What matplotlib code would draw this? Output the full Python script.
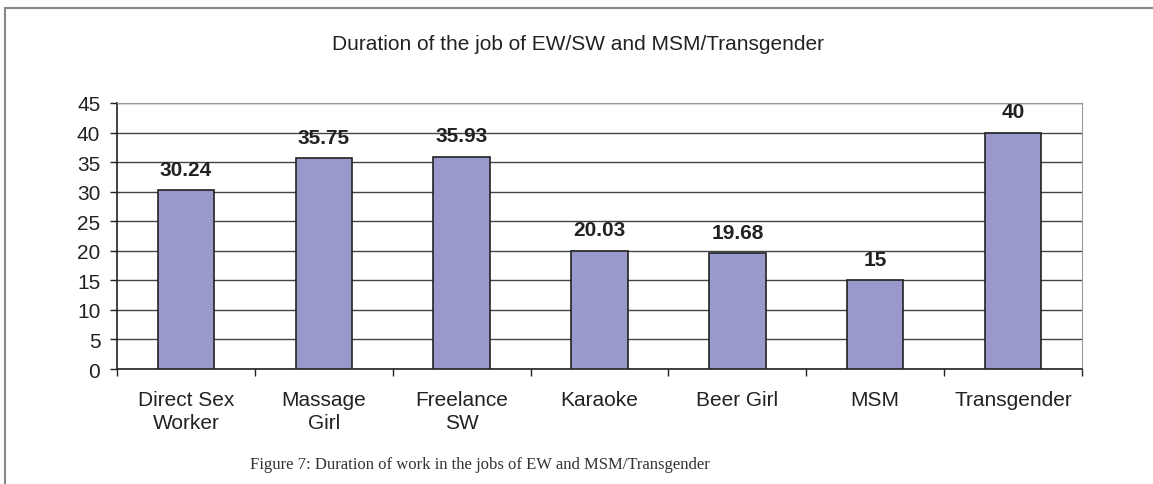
import matplotlib.pyplot as plt
from matplotlib.lines import Line2D

categories = ["Direct Sex\nWorker", "Massage\nGirl", "Freelance\nSW", "Karaoke",
              "Beer Girl", "MSM", "Transgender"]
durations = [30.24, 35.75, 35.93, 20.03, 19.68, 15, 40]
value_labels = ["30.24", "35.75", "35.93", "20.03", "19.68", "15", "40"]
y_ticks = [0, 5, 10, 15, 20, 25, 30, 35, 40, 45]

plt.rcParams['font.family'] = ['Liberation Sans', 'DejaVu Sans']

fig = plt.figure(figsize=(11.53, 4.85), dpi=100)
ax = fig.add_axes([0.1015, 0.2371, 0.8369, 0.5485])

x = list(range(len(categories)))
ax.bar(x, durations, width=0.41, color="#9999cc", edgecolor="#222222", linewidth=1.2, zorder=3)

for xi, v, lab in zip(x, durations, value_labels):
    ax.annotate(lab, (xi, v), xytext=(0, 8), textcoords="offset points",
                ha="center", va="bottom", fontsize=15, fontweight="bold", color="#222222")

ax.set_xlim(-0.5, len(categories) - 0.5)
ax.set_ylim(0, 45)
ax.set_yticks(y_ticks)
ax.tick_params(axis="y", labelsize=15, length=5, width=1, colors="#222222", pad=7)
ax.set_xticks(x)
ax.set_xticklabels(categories, fontsize=15, color="#222222", linespacing=1.3)
ax.tick_params(axis="x", length=0, pad=15)
ax.set_xticks([i - 0.5 for i in range(len(categories) + 1)], minor=True)
ax.tick_params(axis="x", which="minor", length=5, width=1, color="#222222")

ax.yaxis.grid(True, color="#444444", linewidth=1)
ax.set_axisbelow(True)
for s in ["top", "right"]:
    ax.spines[s].set_color("#999999")
for s in ["left", "bottom"]:
    ax.spines[s].set_color("#222222")
    ax.spines[s].set_linewidth(1.2)

fig.text(0.501, 0.909, "Duration of the job of EW/SW and MSM/Transgender",
         ha="center", va="center", fontsize=15, color="#222222")
fig.text(0.416, 0.041, "Figure 7: Duration of work in the jobs of EW and MSM/Transgender",
         ha="center", va="center", fontsize=12, family=["Liberation Serif", "DejaVu Serif"],
         color="#333333")

# outer frame (top and left edges)
fig.add_artist(Line2D([0.004, 1.0], [0.981, 0.981], color="#888888", linewidth=1.5))
fig.add_artist(Line2D([0.004, 0.004], [0.0, 0.981], color="#888888", linewidth=1.5))

fig.savefig("out.png", dpi=100)
